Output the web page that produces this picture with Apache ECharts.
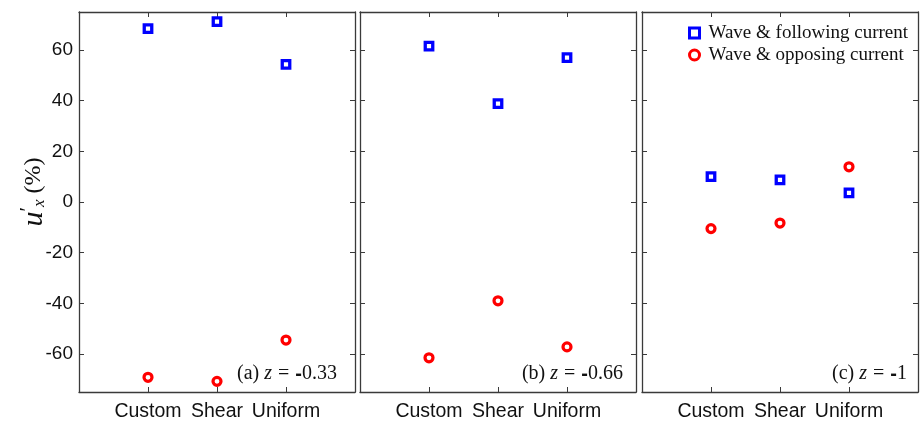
<!DOCTYPE html>
<html><head><meta charset="utf-8">
<script src="https://cdn.jsdelivr.net/npm/echarts@6/dist/echarts.min.js"></script>
<style>html,body{margin:0;padding:0;background:#fff}#c{width:921px;height:422px}</style>
</head><body><div id="c"></div>
<script>
const categories = ['Custom', 'Shear', 'Uniform'];
const yTicks = [-60, -40, -20, 0, 20, 40, 60];
const seriesNames = ['Wave & following current', 'Wave & opposing current'];
const panelLabels = ['(a)', '(b)', '(c)'];
const panelZ = ['-0.33', '-0.66', '-1'];
const followA = [68.4, 71.2, 54.3];
const opposeA = [-69.2, -70.8, -54.5];
const followB = [61.5, 38.8, 57.0];
const opposeB = [-61.5, -39.0, -57.2];
const followC = [10.0, 8.7, 3.6];
const opposeC = [-10.5, -8.3, 13.9];

const follow = [followA, followB, followC];
const oppose = [opposeA, opposeB, opposeC];
const lefts = [79, 360, 642];
const W = 276, TOP = 12, H = 380;
const xPos = categories.map((c, i) => i + 1);
const axisCol = '#3a3a3a';
const serif = '"Liberation Serif", "DejaVu Serif", serif';
const sans = '"Liberation Sans", Arial, sans-serif';

const grids = [], xAxes = [], yAxes = [], series = [], graphics = [];
for (let p = 0; p < 3; p++) {
  grids.push({left: lefts[p], top: TOP, width: W, height: H});
  const lineStyle = {color: axisCol, width: 1.3};
  xAxes.push({type: 'value', gridIndex: p, min: 0, max: 4, position: 'bottom',
    axisLine: {show: true, onZero: false, lineStyle},
    axisTick: {show: true, inside: true, length: 5, customValues: xPos, lineStyle: {color: axisCol}},
    axisLabel: {show: true, customValues: xPos, margin: 10, color: '#111', fontFamily: sans, fontSize: 19.5,
      formatter: v => categories[Math.round(v) - 1] || ''},
    splitLine: {show: false}});
  xAxes.push({type: 'value', gridIndex: p, min: 0, max: 4, position: 'top',
    axisLine: {show: true, onZero: false, lineStyle},
    axisTick: {show: true, inside: true, length: 5, customValues: xPos, lineStyle: {color: axisCol}},
    axisLabel: {show: false}, splitLine: {show: false}});
  yAxes.push({type: 'value', gridIndex: p, min: -75, max: 75, position: 'left',
    axisLine: {show: true, onZero: false, lineStyle},
    axisTick: {show: true, inside: true, length: 5, customValues: yTicks, lineStyle: {color: axisCol}},
    axisLabel: {show: p === 0, customValues: yTicks, margin: 6, color: '#111', fontFamily: sans, fontSize: 19},
    splitLine: {show: false}});
  yAxes.push({type: 'value', gridIndex: p, min: -75, max: 75, position: 'right',
    axisLine: {show: true, onZero: false, lineStyle},
    axisTick: {show: true, inside: true, length: 5, customValues: yTicks, lineStyle: {color: axisCol}},
    axisLabel: {show: false}, splitLine: {show: false}});
  series.push({name: seriesNames[0], type: 'scatter', xAxisIndex: 2 * p, yAxisIndex: 2 * p,
    symbol: 'rect', symbolSize: 7.5,
    itemStyle: {color: '#fff', borderColor: '#0000ff', borderWidth: 3.3, opacity: 1},
    data: follow[p].map((v, i) => [xPos[i], v])});
  series.push({name: seriesNames[1], type: 'scatter', xAxisIndex: 2 * p, yAxisIndex: 2 * p,
    symbol: 'circle', symbolSize: 8,
    itemStyle: {color: '#fff', borderColor: '#ff0000', borderWidth: 3.2, opacity: 1},
    data: oppose[p].map((v, i) => [xPos[i], v])});
  const rights = [337, 623, 907];
  graphics.push({type: 'text', x: rights[p], y: 374, style: {
    text: '{a|' + panelLabels[p] + ' }{i|z}{e|=}{d|-}{s|' + panelZ[p].slice(1) + '}',
    align: 'right', verticalAlign: 'middle',
    rich: {a: {fontFamily: serif, fontSize: 20, fill: '#111'},
           i: {fontFamily: serif, fontStyle: 'italic', fontSize: 20, fill: '#111'},
           e: {fontFamily: serif, fontSize: 20, fill: '#111', padding: [0, 6, 0, 6]},
           d: {fontFamily: sans, fontSize: 20, fill: '#111', fontWeight: 'bold'},
           s: {fontFamily: serif, fontSize: 20, fill: '#111'}}}});
}
graphics.push({type: 'text', x: 34, y: 192, rotation: Math.PI / 2, style: {
  text: '{u|u}{p|′}{x|x}{a| (%)}', align: 'center', verticalAlign: 'middle',
  rich: {u: {fontFamily: serif, fontStyle: 'italic', fontSize: 30, fill: '#111'},
         p: {fontFamily: serif, fontSize: 20, fill: '#111', verticalAlign: 'top'},
         x: {fontFamily: serif, fontStyle: 'italic', fontSize: 17, fill: '#111', padding: [12, 0, 0, 0]},
         a: {fontFamily: serif, fontSize: 24, fill: '#111'}}}});

const chart = echarts.init(document.getElementById('c'), null, {renderer: 'canvas'});
chart.setOption({
  animation: false,
  backgroundColor: '#fff',
  grid: grids, xAxis: xAxes, yAxis: yAxes, series,
  legend: {orient: 'vertical', right: 8, top: 18, itemGap: 2, itemWidth: 10, itemHeight: 10,
    data: [{name: seriesNames[0], icon: 'rect', itemStyle: {borderWidth: 3}},
           {name: seriesNames[1], icon: 'circle', itemStyle: {borderWidth: 3}}],
    textStyle: {fontFamily: serif, fontSize: 19, color: '#111', lineHeight: 20, padding: [0, 0, 0, 4]}},
  graphic: graphics
});
</script></body></html>
